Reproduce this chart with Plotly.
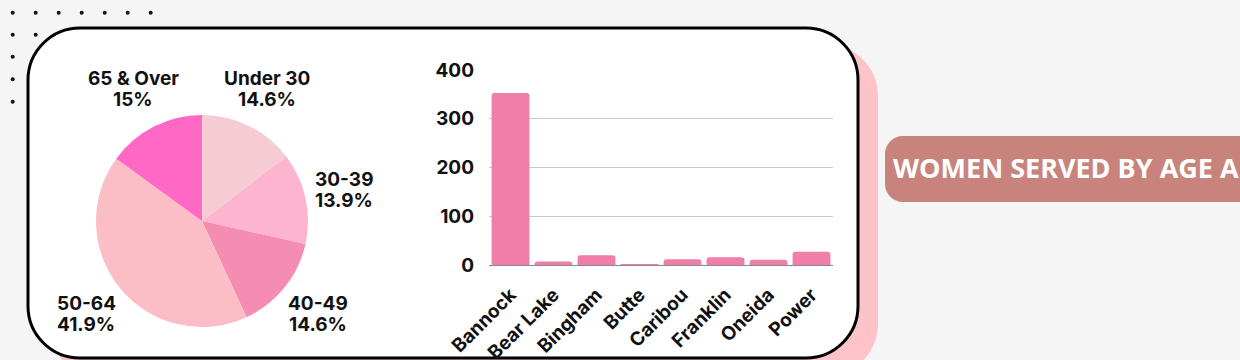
import plotly.graph_objects as go

W, H = 1240, 360

# ---- data ----
age_labels = ["Under 30", "30-39", "40-49", "50-64", "65 & Over"]
age_pct = [14.6, 13.9, 14.6, 41.9, 15.0]
age_pct_text = ["14.6%", "13.9%", "14.6%", "41.9%", "15%"]
age_colors = ["#f5ccd3", "#fdb4cf", "#f58db3", "#fbbec6", "#ff68c4"]

counties = ["Bannock", "Bear Lake", "Bingham", "Butte", "Caribou", "Franklin", "Oneida", "Power"]
county_counts = [353, 7, 20, 2, 12, 16, 11, 27]
y_ticks = [0, 100, 200, 300, 400]

title_text = "WOMEN SERVED BY AGE AND COUNTY"

# ---- helpers (pixel -> paper) ----
def X(px):
    return px / W

def Y(py):
    return 1 - py / H

def rrect(x0, y0, x1, y1, r):
    k = 0.5523 * r
    pts = [
        f"M {X(x0 + r)} {Y(y0)}",
        f"L {X(x1 - r)} {Y(y0)}",
        f"C {X(x1 - r + k)} {Y(y0)} {X(x1)} {Y(y0 + r - k)} {X(x1)} {Y(y0 + r)}",
        f"L {X(x1)} {Y(y1 - r)}",
        f"C {X(x1)} {Y(y1 - r + k)} {X(x1 - r + k)} {Y(y1)} {X(x1 - r)} {Y(y1)}",
        f"L {X(x0 + r)} {Y(y1)}",
        f"C {X(x0 + r - k)} {Y(y1)} {X(x0)} {Y(y1 - r + k)} {X(x0)} {Y(y1 - r)}",
        f"L {X(x0)} {Y(y0 + r)}",
        f"C {X(x0)} {Y(y0 + r - k)} {X(x0 + r - k)} {Y(y0)} {X(x0 + r)} {Y(y0)}",
        "Z",
    ]
    return " ".join(pts)

FONT = "Inter"

fig = go.Figure()

# pie
pc_x, pc_y, pr = 202, 221, 106
fig.add_trace(go.Pie(
    labels=age_labels, values=age_pct,
    marker=dict(colors=age_colors, line=dict(width=0)),
    sort=False, direction="clockwise", rotation=0,
    textinfo="none", hoverinfo="label+percent",
    showlegend=False,
    domain=dict(x=[X(pc_x - pr), X(pc_x + pr)], y=[Y(pc_y + pr), Y(pc_y - pr)]),
))

# bars
fig.add_trace(go.Bar(
    x=counties, y=county_counts,
    marker=dict(color="#f07ea8", cornerradius=3, line=dict(width=0)),
    showlegend=False,
))

shapes = []
# dot grid
for ry in [12.7, 34.7, 56.7, 79.3, 101.7]:
    for cx in [12.7 + 23 * i for i in range(7)]:
        shapes.append(dict(type="circle", xref="paper", yref="paper",
                           x0=X(cx - 2), x1=X(cx + 2), y0=Y(ry + 2), y1=Y(ry - 2),
                           fillcolor="#111111", line=dict(width=0), layer="below"))
# shadow
shapes.append(dict(type="path", xref="paper", yref="paper", path=rrect(48, 44, 878, 376, 52),
                   fillcolor="#fdc3c8", line=dict(width=0), layer="below"))
# card
shapes.append(dict(type="path", xref="paper", yref="paper", path=rrect(28, 28, 858, 358, 52),
                   fillcolor="#ffffff", line=dict(color="#000000", width=3), layer="below"))
# banner
shapes.append(dict(type="path", xref="paper", yref="paper", path=rrect(885, 136, 1300, 202, 18),
                   fillcolor="#c9837d", line=dict(width=0), layer="below"))

# pie label positions (pixel centres of the two lines)
label_pos = [(267, 78), (344, 179), (318, 303), (86, 303), (133, 78)]
LINE_GAP = 21
annotations = []
for lab, pct, (lx, ly) in zip(age_labels, age_pct_text, label_pos):
    for txt, yy in ((lab, ly), (pct, ly + LINE_GAP)):
        annotations.append(dict(xref="paper", yref="paper", x=X(lx), y=Y(yy),
                                xanchor="center", yanchor="middle", showarrow=False,
                                text=txt, align="center",
                                font=dict(family=FONT, size=19, color="#111111", weight=700)))
annotations.append(dict(xref="paper", yref="paper", x=X(891), y=Y(167),
                        xanchor="left", yanchor="middle", showarrow=False,
                        text=title_text,
                        font=dict(family="Open Sans", size=27, color="#ffffff", weight=700)))

fig.update_layout(
    template="none",
    width=W, height=H,
    margin=dict(l=0, r=0, t=0, b=0, pad=0, autoexpand=False),
    paper_bgcolor="#f5f5f5",
    plot_bgcolor="rgba(0,0,0,0)",
    shapes=shapes,
    annotations=annotations,
    bargap=0.12,
    xaxis=dict(domain=[X(489), X(833)], showgrid=False, showline=False, ticks="",
               automargin=False, zeroline=False, ticklabelstandoff=14,
               tickangle=-45, tickfont=dict(family=FONT, size=19, color="#111111", weight=700),
               fixedrange=True),
    yaxis=dict(domain=[Y(265), Y(70)], range=[0, 400], tickvals=y_ticks,
               automargin=False,
               gridcolor="#c8c8c8", gridwidth=1, zeroline=True, zerolinecolor="#8a8a8a",
               zerolinewidth=1, showline=False, ticks="", ticklabelstandoff=14,
               tickfont=dict(family=FONT, size=19, color="#111111", weight=700),
               fixedrange=True),
)

fig.write_html("out.html")
